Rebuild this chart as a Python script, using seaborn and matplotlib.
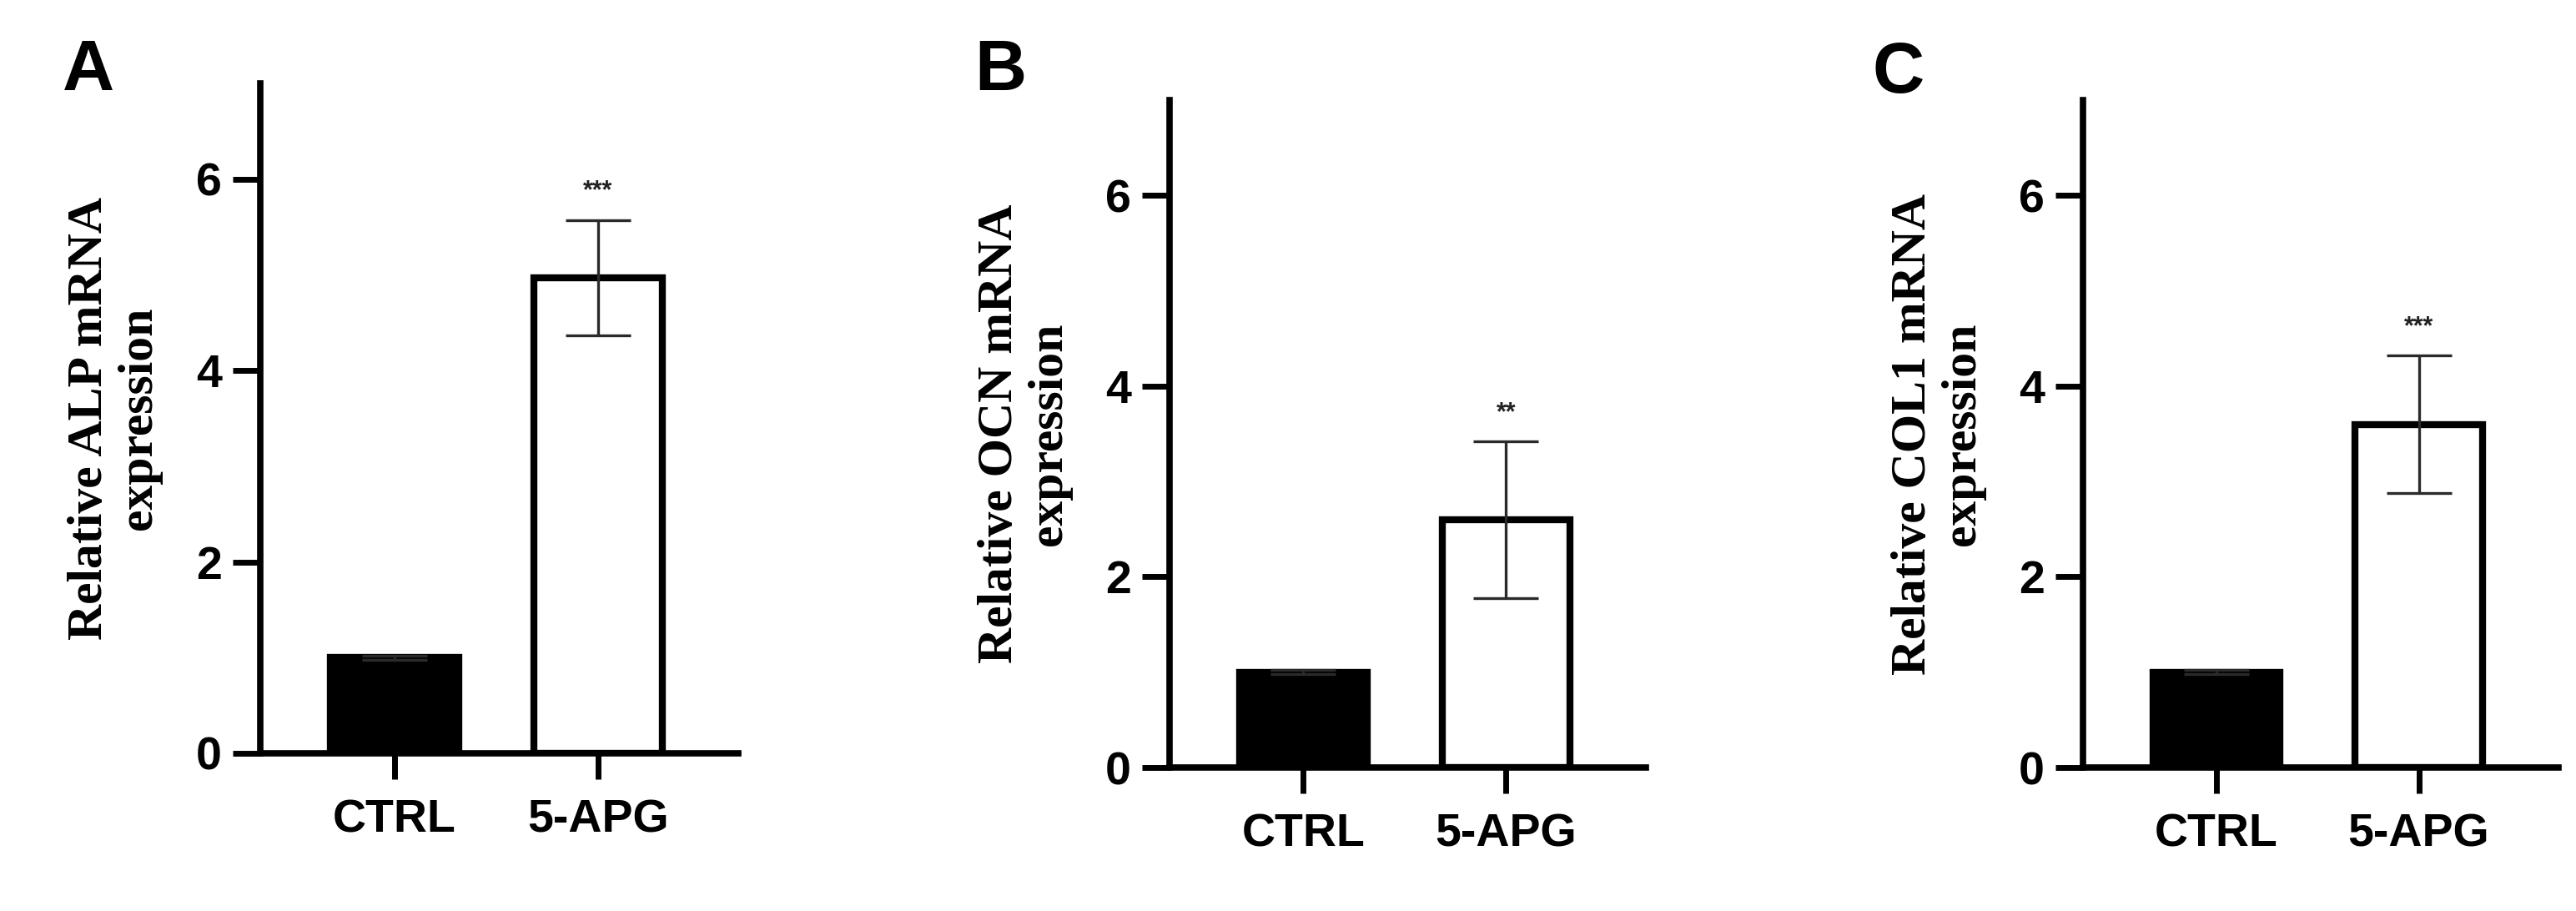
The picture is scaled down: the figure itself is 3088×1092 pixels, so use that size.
import matplotlib
matplotlib.use("Agg")
import matplotlib.pyplot as plt
import seaborn as sns
import pandas as pd

categories = ["CTRL", "5-APG"]
alp_mean = [1.0, 4.97]
alp_sd = [0.02, 0.60]
ocn_mean = [1.0, 2.60]
ocn_sd = [0.02, 0.82]
col1_mean = [1.0, 3.60]
col1_sd = [0.02, 0.72]
stars = ["***", "**", "***"]
ylabels = ["Relative ALP mRNA\nexpression", "Relative OCN mRNA\nexpression",
           "Relative COL1 mRNA\nexpression"]
letters = ["A", "B", "C"]
yticks = [0, 2, 4, 6]

sns.set_style("white")
plt.rcParams["font.family"] = ["Liberation Sans", "DejaVu Sans"]
plt.rcParams["text.color"] = "black"
plt.rcParams["xtick.color"] = "black"
plt.rcParams["ytick.color"] = "black"
plt.rcParams["axes.labelcolor"] = "black"

fig = plt.figure(figsize=(30.88, 10.92), dpi=100)
positions = [
    [0.1010, 0.1731, 0.1856, 0.7353],
    [0.4540, 0.1575, 0.1849, 0.7326],
    [0.8086, 0.1575, 0.1846, 0.7326],
]
letter_pos = [(75, 108), (1168, 108), (2245, 111)]
means = [alp_mean, ocn_mean, col1_mean]
sds = [alp_sd, ocn_sd, col1_sd]

for i in range(3):
    ax = fig.add_axes(positions[i])
    df = pd.DataFrame({"group": categories, "value": means[i]})
    sns.barplot(data=df, x="group", y="value", hue="group",
                palette={"CTRL": "black", "5-APG": "white"},
                edgecolor="black", linewidth=6, width=0.63,
                errorbar=None, legend=False, ax=ax, zorder=2)
    ax.errorbar([0, 1], means[i], yerr=sds[i], fmt="none", ecolor="#2a2a2a",
                elinewidth=2.4, capsize=28, capthick=2.4, zorder=3)
    ax.text(1, means[i][1] + sds[i][1] + 0.3, stars[i], ha="center", va="center",
            fontsize=22, color="#222222", fontweight="bold")
    ax.set_ylim(0, 7)
    ax.set_xlim(-0.66, 1.69)
    ax.set_yticks(yticks)
    ax.set_yticklabels([str(t) for t in yticks])
    ax.set_xlabel("")
    ax.set_ylabel(ylabels[i], fontsize=43, fontweight="bold", color="black",
                  family=["Liberation Serif", "DejaVu Serif"], linespacing=1.12)
    ax.yaxis.set_label_coords(-0.205, 0.5)
    for s in ["top", "right"]:
        ax.spines[s].set_visible(False)
    for s in ["left", "bottom"]:
        ax.spines[s].set_linewidth(5.5)
        ax.spines[s].set_color("black")
        ax.spines[s].set_zorder(4)
    ax.tick_params(axis="y", length=24, width=5, pad=9, labelsize=40, left=True,
                   colors="black")
    ax.tick_params(axis="x", length=22, width=5, pad=17, labelsize=40, bottom=True,
                   colors="black")
    for lab in ax.get_xticklabels() + ax.get_yticklabels():
        lab.set_fontweight("bold")
    lx, ly = letter_pos[i]
    fig.text(lx / 3088, 1 - ly / 1092, letters[i], fontsize=62, fontweight="bold",
             ha="left", va="baseline", color="black")

fig.savefig("out.png", dpi=100, facecolor="white")
